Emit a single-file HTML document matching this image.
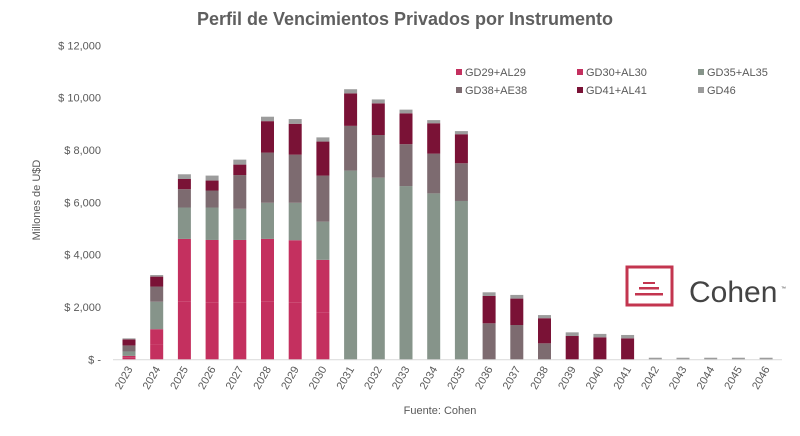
<!DOCTYPE html>
<html><head><meta charset="utf-8"><style>
body{margin:0;background:#fff;width:800px;height:431px;overflow:hidden;font-family:"Liberation Sans",sans-serif}
svg text{font-family:"Liberation Sans",sans-serif}
</style></head><body>
<svg id="chart" width="800" height="431" xmlns="http://www.w3.org/2000/svg">
<rect width="800" height="431" fill="#fff"/>
<text x="405" y="25" text-anchor="middle" font-size="18" font-weight="bold" fill="#5f5f5f">Perfil de Vencimientos Privados por Instrumento</text>
<text transform="translate(40,200) rotate(-90)" text-anchor="middle" font-size="11" fill="#595959">Millones de U$D</text>
<text x="440" y="414" text-anchor="middle" font-size="11" fill="#595959">Fuente: Cohen</text>
<g id="yticks"></g><g id="bars"></g><g id="xlabels"></g><g id="legend"></g>
<g>
<rect x="627" y="267" width="45" height="38" fill="none" stroke="#c3354f" stroke-width="3"/>
<rect x="643" y="282" width="12" height="2" fill="#c3354f"/>
<rect x="639" y="287" width="20" height="2.5" fill="#c3354f"/>
<rect x="635" y="293" width="28" height="2.5" fill="#c3354f"/>
<text x="689" y="302" font-size="30" fill="#444">Cohen</text>
<text x="781" y="290" font-size="5" fill="#444">™</text>
</g>
</svg>
<script>
const years=["2023","2024","2025","2026","2027","2028","2029","2030","2031","2032","2033","2034","2035","2036","2037","2038","2039","2040","2041","2042","2043","2044","2045","2046"];
const seriesNames=["GD29+AL29","GD30+AL30","GD35+AL35","GD38+AE38","GD41+AL41","GD46"];
const gd29=[60,550,2200,2180,2180,2200,2180,1800,0,0,0,0,0,0,0,0,0,0,0,0,0,0,0,0];
const gd30=[70,600,2400,2380,2380,2400,2370,2000,0,0,0,0,0,0,0,0,0,0,0,0,0,0,0,0];
const gd35=[170,1050,1200,1240,1190,1380,1430,1460,7210,6940,6620,6340,6050,0,0,0,0,0,0,0,0,0,0,0];
const gd38=[230,580,700,650,1290,1920,1840,1760,1710,1630,1600,1520,1440,1375,1310,610,0,0,0,0,0,0,0,0];
const gd41=[230,380,390,380,400,1200,1180,1300,1240,1210,1180,1160,1110,1045,1010,960,890,840,800,0,0,0,0,0];
const gd46=[40,60,180,190,190,170,180,160,160,150,140,120,120,140,140,120,140,130,130,60,60,60,60,60];
const yTicks=[0,2000,4000,6000,8000,10000,12000];
const yTickLabels=["$ -","$ 2,000","$ 4,000","$ 6,000","$ 8,000","$ 10,000","$ 12,000"];
const colors=["#c4305f","#c4305f","#86948a","#7d6b70","#7a1236","#9c9c9c"];
const NS="http://www.w3.org/2000/svg";
const y=v=>359.3-v*0.02617;
const x=i=>129+i*27.7;
function mk(t,a,p){const e=document.createElementNS(NS,t);for(const k in a)e.setAttribute(k,a[k]);p.appendChild(e);return e;}
const yt=document.getElementById('yticks');
yTicks.forEach((v,i)=>{const t=mk('text',{x:101,y:y(v)+4,'text-anchor':'end','font-size':11,fill:'#595959'},yt);


t.textContent=yTickLabels[i];});
const base=mk('line',{x1:113,x2:782,y1:y(0)+0.5,y2:y(0)+0.5,stroke:'#d9d9d9'},yt);


const series=[gd29,gd30,gd35,gd38,gd41,gd46];
const bg=document.getElementById('bars');
years.forEach((yr,i)=>{let cum=0;
series.forEach((s,k)=>{const v=s[i];if(!v)return;
const r=mk('rect',{x:x(i)-6.5,width:13,y:y(cum+v),height:y(cum)-y(cum+v),fill:colors[k]},bg);


cum+=v;});
const t=mk('text',{'font-size':11,fill:'#595959','text-anchor':'end',transform:'translate('+(x(i)+4)+',369) rotate(-60)'},document.getElementById('xlabels'));


t.textContent=yr;});
const lg=document.getElementById('legend');
seriesNames.forEach((n,k)=>{const cx=456+(k%3)*121, cy=76+Math.floor(k/3)*18;
const g=mk('g',{},lg);


mk('rect',{x:cx,y:cy-7,width:6,height:6,fill:colors[k]},g);
const t=mk('text',{x:cx+9,y:cy,'font-size':11,fill:'#595959'},g);t.textContent=n;});
</script>
</body></html>
